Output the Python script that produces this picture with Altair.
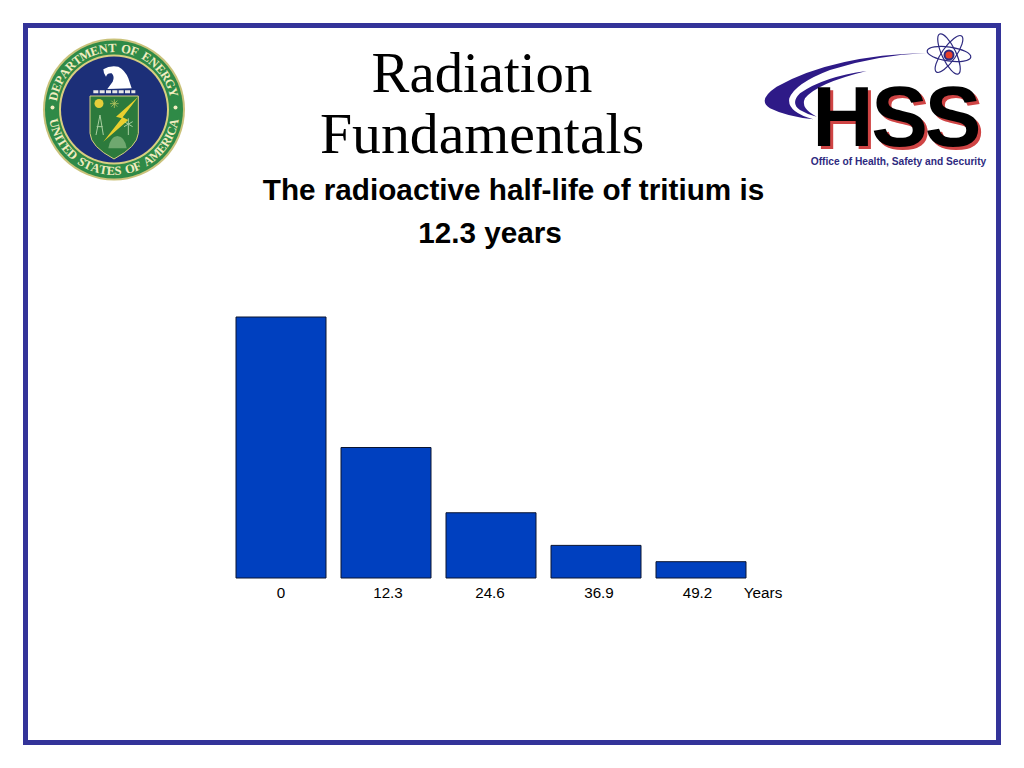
import re
import math
import altair as alt
import pandas as pd

# Chart values
years = ["0", "12.3", "24.6", "36.9", "49.2"]
remaining = [100, 50, 25, 12.5, 6.25]
unit_label = "Years"
title_lines = ["Radiation", "Fundamentals"]
subtitle_lines = ["The radioactive half-life of tritium is", "12.3 years"]
seal_top = "DEPARTMENT OF ENERGY"
seal_bottom = "UNITED STATES OF AMERICA"
logo_word = ["H", "S", "S"]
logo_caption = "Office of Health, Safety and Security"

OX, OY = 236, 317   # page position of the plot area


def px(x):
    return alt.value(x - OX)


def py(y):
    return alt.value(y - OY)


def path(d, sx, sy):
    """Zoomed-crop path -> path relative to the plot origin (drawn at size 4 = 1:1)."""
    nums = iter(re.findall(r"[A-Za-z]|-?\d+\.?\d*", d))
    out, is_x = [], True
    for t in nums:
        if t.isalpha():
            out.append(t)
            is_x = True
        else:
            v = float(t)
            out.append(f"{(v / 3 + sx - OX) if is_x else (v / 3 + sy - OY):.2f}")
            is_x = not is_x
    return " ".join(out)


def shape(d, origin, fill=None, stroke=None, sw=1.0):
    kw = {"shape": path(d, *origin), "size": 4, "opacity": 1, "strokeWidth": sw}
    kw["filled"] = fill is not None
    if fill is not None:
        kw["fill"] = fill
    kw["stroke"] = stroke if stroke else "transparent"
    return alt.Chart(BASE).mark_point(**kw).encode(x=alt.value(0), y=alt.value(0))


def disc(x, y, d, color):
    return alt.Chart(BASE).mark_point(shape="circle", size=d * d, filled=True, fill=color,
                                      opacity=1, strokeWidth=0).encode(x=px(x), y=py(y))


def label(txt, x, y, size, font="Liberation Sans", weight="normal", color="black", align="center"):
    return alt.Chart(BASE).mark_text(text=txt, fontSize=size, font=font, fontWeight=weight,
                                     color=color, align=align, baseline="alphabetic").encode(x=px(x), y=py(y))


BASE = pd.DataFrame({"k": [0]})
SEAL = (20, 20)
HSS = (750, 20)
SX, SY = 114, 109.5

# Bars
bars_df = pd.DataFrame({"year": years, "remaining": remaining})
offsets = "datum.value == '12.3' ? 2 : datum.value == '24.6' ? -1 : datum.value == '36.9' ? 3 : datum.value == '49.2' ? -3.5 : 0"
bars = alt.Chart(bars_df).mark_bar(color="#0040BF", stroke="#0a1430", strokeWidth=1).encode(
    x=alt.X("year:N", sort=years, title=None,
            scale=alt.Scale(paddingInner=15 / 105, paddingOuter=0),
            axis=alt.Axis(domain=False, ticks=False, labelAngle=0, labelFontSize=15.2,
                          labelFont="Liberation Sans", labelColor="black", labelPadding=7.5,
                          labelOffset=alt.expr(offsets), grid=False)),
    y=alt.Y("remaining:Q", title=None, axis=None, scale=alt.Scale(domain=[0, 100], nice=False)),
)

# Frame
frame = alt.Chart(BASE).mark_rect(fill="transparent", stroke="#333399", strokeWidth=5).encode(
    x=px(25.5), x2=px(998.5), y=py(25.5), y2=py(742.5))

# Seal ring lettering


def ring(text, start, end, radius, flip):
    w = {"I": .5, " ": .55, "M": 1.25, "T": .95, "E": .95, "F": .9, "O": 1.05, "N": 1.1, "D": 1.05,
         "R": 1.0, "A": 1.05, "G": 1.05, "Y": 1.0, "P": .9, "U": 1.05, "S": .8, "C": 1.0}
    widths = [w.get(c, 1) for c in text]
    tot = sum(widths)
    rows, run = [], 0.0
    for c, wd in zip(text, widths):
        t = start + (end - start) * (run + wd / 2) / tot
        run += wd
        if c == " ":
            continue
        a = math.radians(t)
        rows.append({"c": c,
                     "x": SX + radius * math.sin(a) - OX,
                     "y": SY - radius * math.cos(a) - OY,
                     "a": (t + 180) % 360 if flip else t % 360})
    return rows


ring_df = pd.DataFrame(ring(seal_top, -82, 78, 61.5, False) + ring(seal_bottom, 261, 99, 61.5, True))
ring_text = alt.Chart(ring_df).mark_text(fontSize=12.5, font="Liberation Serif", fontWeight="bold",
                                         color="#f2edc0", align="center", baseline="middle").encode(
    x=alt.X("x:Q", scale=None, axis=None), y=alt.Y("y:Q", scale=None, axis=None),
    text="c:N", angle=alt.Angle("a:Q", scale=None))

seal = [
    disc(SX, SY, 142, "#c9c27a"),
    disc(SX, SY, 138, "#2f8a47"),
    disc(SX, SY, 110, "#d8cf80"),
    disc(SX, SY, 106, "#1c2f78"),
    ring_text,
    disc(SX - 61.5, SY - 2, 4, "#f2edc0"),
    disc(SX + 61.5, SY - 2, 4, "#f2edc0"),
    shape("M250 148 Q270 135 295 140 Q315 150 325 175 L335 205 L262 207 L278 185 Q285 170 275 160 Q262 158 258 170 Q250 160 250 148 Z",
          SEAL, fill="white"),
    shape("M220 211 L235 211 L235 220 L220 220 Z M239 211 L254 211 L254 220 L239 220 Z "
          "M258 211 L273 211 L273 220 L258 220 Z M277 211 L292 211 L292 220 L277 220 Z "
          "M296 211 L311 211 L311 220 L296 220 Z M315 211 L330 211 L330 220 L315 220 Z "
          "M334 211 L346 211 L346 220 L334 220 Z", SEAL, fill="#e8e8e8"),
    shape("M210 228 L355 228 L355 340 Q352 380 282 417 Q212 380 210 340 Z", SEAL, fill="#2c7a3c", stroke="#d8cf80", sw=1),
    disc(99, 103.5, 9, "#e6cf3a"),
    shape("M283 238 L283 264 M270 251 L296 251 M274 242 L292 260 M292 242 L274 260", SEAL, stroke="#b9c860", sw=0.8),
    shape("M240 285 L228 345 M240 285 L250 345 M230 320 L248 320", SEAL, stroke="#a9cfa0", sw=1),
    shape("M325 295 L325 345 M312 305 L338 320 M338 305 L312 320", SEAL, stroke="#a9cfa0", sw=1),
    shape("M265 385 Q270 350 292 348 Q315 350 320 385 Z", SEAL, fill="#6fa86f"),
    shape("M355 230 L288 290 L305 295 L250 365 L325 300 L308 292 Z", SEAL, fill="#e8cf2e"),
]

# HSS logo
swoosh = [
    shape("M530 99 Q250 105 80 200 Q20 240 60 265 Q110 290 190 298 Q110 275 118 235 Q135 190 240 150 Q380 105 530 99 Z",
          HSS, fill="#2e1a87"),
    shape("M350 153 Q220 170 150 220 Q120 250 150 270 Q175 285 200 290 Q150 265 165 235 Q200 190 350 153 Z",
          HSS, fill="#2e1a87"),
]
centers = [843, 899.5, 953]
word = []
for dx, dy, col in [(3, 3, "#cf4444"), (0, 0, "black")]:
    for ch, cx in zip(logo_word, centers):
        word.append(label(ch, cx + dx, 146 + dy, 85, weight="bold", color=col))

atom = [
    alt.Chart(BASE).mark_point(shape="M -22 0 A 22 7 0 1 0 22 0 A 22 7 0 1 0 -22 0", size=4, filled=False,
                               stroke="#2e2a80", strokeWidth=1.2, opacity=1, angle=ang).encode(x=px(949), y=py(54))
    for ang in (8, 65, 125)
] + [disc(949, 55, 11, "#2e2a80"), disc(949, 55, 7, "#e8402a")]

caption = label(logo_caption, 898.5, 164.5, 10.2, weight="bold", color="#2e2a80")

texts = [
    label(title_lines[0], 482, 91.5, 56.8, font="Liberation Serif"),
    label(title_lines[1], 482, 153, 57.8, font="Liberation Serif"),
    label(subtitle_lines[0], 513.5, 200, 29.7, weight="bold"),
    label(subtitle_lines[1], 490, 243, 29.7, weight="bold"),
    alt.Chart(BASE).mark_text(text=unit_label, fontSize=15.3, font="Liberation Sans", color="black",
                              align="center", baseline="alphabetic").encode(x=px(763), y=py(598)),
]

chart = alt.layer(frame, *seal, *swoosh, *word, *atom, caption, *texts, bars).resolve_scale(
    x="independent", y="independent"
).properties(
    width=510, height=261,
    autosize=alt.AutoSizeParams(type="none"),
    padding={"left": OX - 8, "top": OY - 8, "right": 1016 - OX - 510, "bottom": 760 - OY - 261},
    background="white",
).configure_view(stroke=None)

chart.save("out.html", embed_options={"renderer": "svg", "actions": False})
